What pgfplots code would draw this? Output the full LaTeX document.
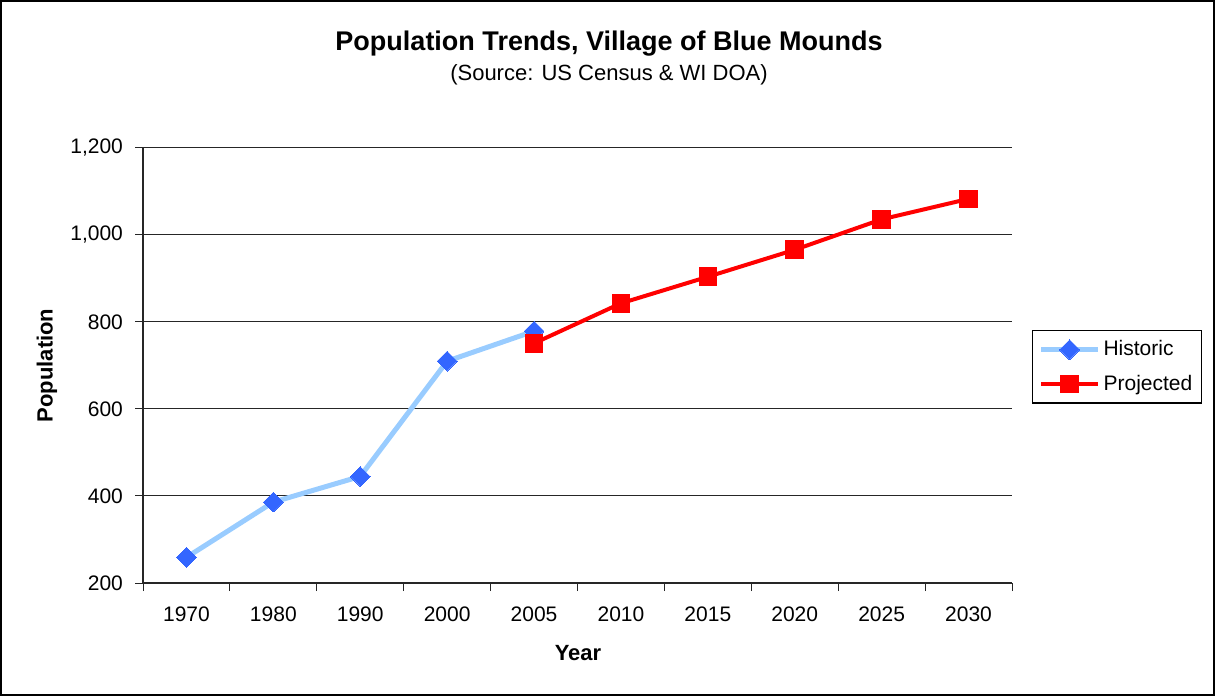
\documentclass[border=0pt]{standalone}
\usepackage{fontspec}
\setmainfont{Liberation Sans}
\usepackage{pgfplots}
\pgfplotsset{compat=1.18}

\definecolor{histline}{RGB}{153,204,255}
\definecolor{histmark}{RGB}{51,102,255}
\definecolor{projred}{RGB}{255,0,0}

\begin{document}
\begin{tikzpicture}
% outer frame of the chart
\useasboundingbox (0pt,0pt) rectangle (607.5pt,348pt);
\draw[line width=0.7pt] (0.6pt,0.6pt) rectangle (606.9pt,347.4pt);

\node[font=\fontsize{13.5}{16}\selectfont\bfseries] at (304.5pt,326pt)
  {Population Trends, Village of Blue Mounds};
\node[font=\fontsize{11}{13}\selectfont] at (304.5pt,310.5pt)
  {(Source: US Census \& WI DOA)};

\begin{axis}[
  at={(71.5pt,56.5pt)}, anchor=south west,
  scale only axis, width=434.5pt, height=217.5pt,
  xmin=-0.5, xmax=9.5, ymin=200, ymax=1200,
  axis lines=left,
  axis line style={-, line width=0.6pt, color=black!85},
  xtick={-0.5,0.5,1.5,2.5,3.5,4.5,5.5,6.5,7.5,8.5,9.5},
  xticklabels={1970,1980,1990,2000,2005,2010,2015,2020,2025,2030,{}},
  xticklabel style={xshift=21.725pt, yshift=-4.5pt},
  yticklabel style={xshift=-2.5pt},
  ytick={200,400,600,800,1000,1200},
  tick align=outside, major tick length=4pt,
  tick style={black!85, line width=0.5pt},
  ymajorgrids, grid style={black!85, line width=0.5pt},
  /pgf/number format/1000 sep={,},
  /pgf/number format/assume math mode=true,
  tick label style={font=\fontsize{10.5}{12}\selectfont},
  xlabel={Year}, ylabel={Population},
  every axis x label/.style={at={(axis description cs:0.5006,-0.161)}, anchor=center,
    font=\fontsize{11}{13}\selectfont\bfseries},
  every axis y label/.style={at={(axis description cs:-0.1105,0.5)}, anchor=center, rotate=90,
    font=\fontsize{11}{13}\selectfont\bfseries},
  legend style={at={(rel axis cs:1.023,0.5816)}, anchor=north west,
    draw=black, line width=0.6pt, font=\fontsize{10.5}{12}\selectfont,
    inner xsep=3pt, inner ysep=3.5pt, row sep=5pt,
    nodes={inner sep=1.5pt}},
  legend cell align=left,
  legend image code/.code={
    \draw[mark repeat=2,mark phase=2] plot coordinates {(0pt,0pt) (14.25pt,0pt) (28.5pt,0pt)};
  },
]
\addplot[histline, line width=2.5pt, mark=square*, mark size=3.5pt,
  mark options={histmark, fill=histmark, rotate=45, line width=0pt}]
  coordinates {(0,259) (1,386) (2,445) (3,710) (4,779)};
\addlegendentry{Historic}
\addplot[projred, line width=2pt, mark=square*, mark size=4.4pt,
  mark options={projred, fill=projred, line width=0pt}]
  coordinates {(4,751) (5,843) (6,904) (7,966) (8,1036) (9,1083)};
\addlegendentry{Projected\hspace{2.5pt}}
\end{axis}
\end{tikzpicture}
\end{document}
